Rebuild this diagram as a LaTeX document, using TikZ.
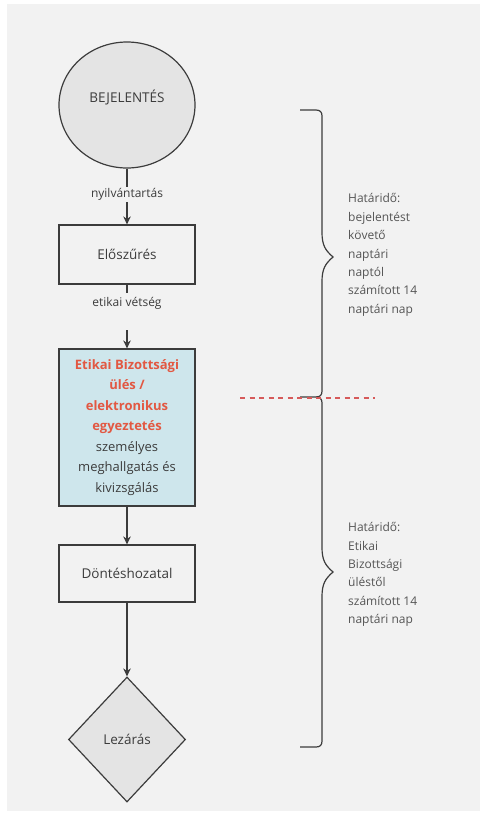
\documentclass[tikz,border=0pt]{standalone}
\usepackage{fontspec}
\setmainfont{Open Sans}
\usetikzlibrary{shapes.geometric,arrows.meta}
\definecolor{panelbg}{RGB}{242,242,242}
\definecolor{shapegrey}{RGB}{228,228,228}
\definecolor{strokec}{RGB}{60,60,60}
\definecolor{textc}{RGB}{60,60,60}
\definecolor{sidetext}{RGB}{85,85,85}
\definecolor{boxblue}{RGB}{206,230,236}
\definecolor{redtext}{RGB}{226,88,66}
\definecolor{dashred}{RGB}{214,90,90}
\tikzset{
  flow/.style={draw=strokec, line width=1.2pt, text=textc, font=\fontsize{13.5}{16}\selectfont},
  procbox/.style={flow, rectangle, minimum width=136pt, inner sep=0pt, fill=panelbg},
  conn/.style={draw=strokec, line width=1.2pt, -{Stealth[length=8pt,width=7.5pt]}},
  plainconn/.style={draw=strokec, line width=1.2pt},
  edgelabel/.style={fill=panelbg, inner sep=1.5pt, text=textc, font=\fontsize{12}{14}\selectfont},
  bracepath/.style={draw=strokec, line width=1.2pt},
  sidenote/.style={anchor=west, align=left, text=sidetext, inner sep=0pt, font=\fontsize{12}{18.4}\selectfont},
}
\begin{document}
\begin{tikzpicture}[x=1pt,y=-1pt]
\useasboundingbox (0,0) rectangle (485,820);
\fill[white] (0,0) rectangle (485,820);
\fill[panelbg] (7,4) rectangle (480,811);

% nodes
\node[flow, ellipse, minimum width=136pt, minimum height=126pt, inner sep=0pt, fill=shapegrey,
      label={[text=textc, font=\fontsize{13.5}{16}\selectfont, yshift=8pt]center:BEJELENTÉS}] (bej) at (127,105) {};
\node[procbox, minimum height=59pt] (elo) at (127,254.5) {Előszűrés};
\node[procbox, minimum height=157pt, fill=boxblue, align=center,
      font=\fontsize{13}{20.5}\selectfont] (etb) at (127,427.5)
  {{\color{redtext}\bfseries Etikai Bizottsági}\\{\color{redtext}\bfseries ülés /}\\{\color{redtext}\bfseries elektronikus}\\{\color{redtext}\bfseries egyeztetés}\\személyes\\meghallgatás és\\kivizsgálás};
\node[procbox, minimum height=57pt] (dont) at (127,573.5) {Döntéshozatal};
\node[flow, diamond, minimum width=117pt, minimum height=125pt, inner sep=0pt, fill=shapegrey] (lez) at (127,739.5) {Lezárás};

% connectors
\draw[conn] (bej) -- node[edgelabel, pos=0.46] (l1) {nyilvántartás} (elo);
\node[edgelabel, fill=none] (l2) at (127,303) {etikai vétség};
\coordinate (g1) at (127,293);
\coordinate (g2) at (127,330);
\draw[plainconn] (elo) -- (g1);
\draw[conn] (g2) -- (etb);
\draw[conn] (etb) -- (dont);
\draw[conn] (dont) -- (lez);

% braces
\draw[bracepath] (300,110) -- (316,110) .. controls (320,110) and (322,112) .. (322,116)
  -- (322,232) .. controls (322,245) and (325,250) .. (333,257)
  .. controls (325,264) and (322,269) .. (322,282)
  -- (322,391) .. controls (322,395) and (320,397) .. (316,397) -- (300,397);
\draw[bracepath] (316,397) .. controls (320,397) and (322,399) .. (322,403)
  -- (322,547) .. controls (322,560) and (325,565) .. (333,572)
  .. controls (325,579) and (322,584) .. (322,597)
  -- (322,741) .. controls (322,745) and (320,747) .. (316,747) -- (300,747);

% dashed separator
\coordinate (d1) at (240,398);
\coordinate (d2) at (375,398);
\draw[dashred, line width=1.1pt, dash pattern=on 5pt off 4.5pt] (d1) -- (d2);

% side notes
\node[sidenote] (n1) at (348,255) {Határidő:\\bejelentést\\követő\\naptári\\naptól\\számított 14\\naptári nap};
\node[sidenote] (n2) at (348,574.5) {Határidő:\\Etikai\\Bizottsági\\üléstől\\számított 14\\naptári nap};
\end{tikzpicture}
\end{document}
